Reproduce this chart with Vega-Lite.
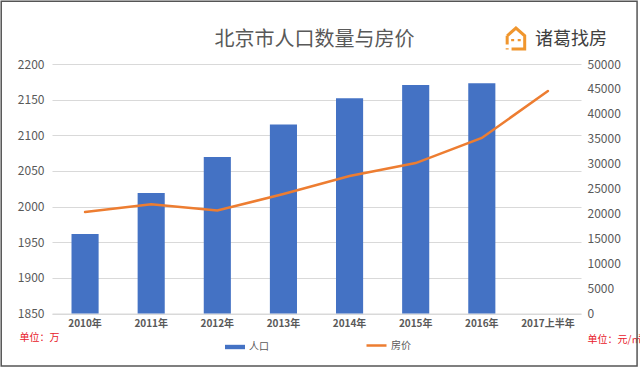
{
"$schema":"https://vega.github.io/schema/vega-lite/v6.json",
"width":529,"height":249.5,"autosize":"none",
"padding":{"left":52,"top":64,"right":59,"bottom":54.5},
"background":"white",
"view":{"stroke":null},
"config":{"font":"Noto Sans CJK SC"},
"title":{"text":"北京市人口数量与房价","frame":"group","fontSize":20,"fontWeight":"normal","color":"#595959","font":"Noto Sans CJK SC","anchor":"middle","offset":0,"dy":50,"dx":-2},
"data":{"values":[
{"year":"2010年","population":1961.5,"price":20340},
{"year":"2011年","population":2019,"price":21900},
{"year":"2012年","population":2069.5,"price":20640},
{"year":"2013年","population":2115,"price":23950},
{"year":"2014年","population":2152,"price":27550},
{"year":"2015年","population":2170.5,"price":30150},
{"year":"2016年","population":2173,"price":35170},
{"year":"2017上半年","price":44600}
]},
"resolve":{"scale":{"x":"independent","y":"independent"},"axis":{"x":"independent","y":"independent"}},
"layer":[
{"mark":{"type":"bar","clip":true},
"encoding":{
"x":{"field":"year","type":"nominal","sort":null,"scale":{"domain":["2010年","2011年","2012年","2013年","2014年","2015年","2016年","2017上半年"],"paddingInner":0.59,"paddingOuter":0.295},
"axis":{"title":null,"labelAngle":0,"labelFontWeight":"bold","labelFontSize":10,"labelColor":"#595959","ticks":false,"domainColor":"#D9D9D9","labelPadding":5}},
"y":{"field":"population","type":"quantitative","scale":{"domain":[1850,2200],"zero":false,"nice":false},
"axis":{"orient":"left","format":"d","values":[1850,1900,1950,2000,2050,2100,2150,2200],"grid":true,"gridColor":"#D9D9D9","domain":false,"ticks":false,"labelPadding":8,"labelFontSize":12,"labelColor":"#595959",
"title":"单位：万","titleAngle":0,"titleX":-33,"titleY":273,"titleAlign":"left","titleBaseline":"middle","titleColor":"#E8202A","titleFontSize":10,"titleFontWeight":"normal"}},
"fill":{"datum":"人口","scale":{"range":["#4472C4"]},"legend":{"title":null,"orient":"none","legendX":172,"legendY":272,"symbolType":"M-1,-0.22H1V0.22H-1Z","symbolSize":400,"labelFontSize":10,"labelColor":"#595959","labelOffset":3}}
}},
{"mark":{"type":"line","strokeWidth":2.5,"strokeCap":"round","interpolate":"linear"},
"encoding":{
"x":{"field":"year","type":"nominal","sort":null,"scale":{"domain":["2010年","2011年","2012年","2013年","2014年","2015年","2016年","2017上半年"],"paddingInner":0.59,"paddingOuter":0.295},"axis":null},
"y":{"field":"price","type":"quantitative","scale":{"domain":[0,50000],"nice":false},
"axis":{"orient":"right","format":"d","values":[0,5000,10000,15000,20000,25000,30000,35000,40000,45000,50000],"grid":false,"domain":false,"ticks":false,"labelPadding":6,"labelFontSize":12,"labelColor":"#595959",
"title":"单位：元/㎡","titleAngle":0,"titleX":6,"titleY":275,"titleAlign":"left","titleBaseline":"middle","titleColor":"#E8202A","titleFontSize":10,"titleFontWeight":"normal"}},
"stroke":{"datum":"房价","scale":{"range":["#ED7D31"]},"legend":{"title":null,"orient":"none","legendX":313,"legendY":270,"symbolType":"stroke","symbolSize":400,"symbolStrokeWidth":2.5,"labelFontSize":10,"labelColor":"#595959","labelOffset":3}}
}},
{"data":{"values":[{"brand":"诸葛找房"}]},
"encoding":{
"x":{"datum":0.981,"type":"quantitative","scale":{"domain":[0,1],"nice":false,"zero":false},"axis":null},
"y":{"datum":1.096,"type":"quantitative","scale":{"domain":[0,1],"nice":false,"zero":false},"axis":null}
},
"layer":[
{"mark":{"type":"text","fontSize":18,"fontWeight":"normal","color":"#404040","align":"center","baseline":"middle"},"encoding":{"text":{"field":"brand"}}},
{"mark":{"type":"point","filled":false,"stroke":"#F0962E","strokeWidth":3,"opacity":1,"size":480,"shape":"M-0.8,-0.3L0,-1L0.8,-0.3V0.9H-0.4M-0.8,-0.3V0.5M-0.3,0V0.2M0.3,0V0.2M-0.8,0.85V0.95"},
"encoding":{"x":{"datum":0.877,"type":"quantitative"},"y":{"datum":1.1,"type":"quantitative"}}},
{"mark":{"type":"rect","fill":null,"stroke":"#555555","strokeWidth":1.5},
"encoding":{"x":{"datum":-0.096,"type":"quantitative"},"x2":{"datum":1.106},"y":{"datum":-0.21,"type":"quantitative"},"y2":{"datum":1.252}}}
]}
]
}
